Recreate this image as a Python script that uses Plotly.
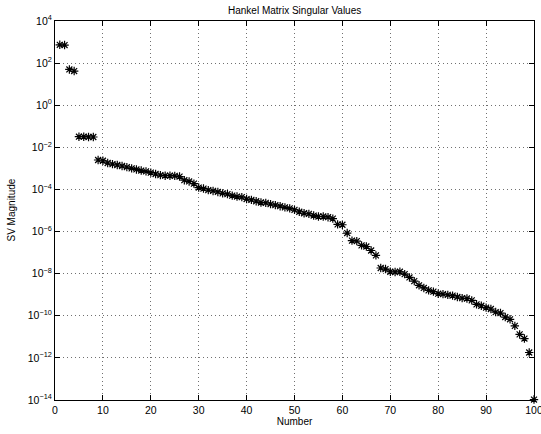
import plotly.graph_objects as go

number = list(range(1, 101))
sv_magnitude = [
    7.4e2, 7.2e2, 5.0e1, 4.2e1, 3.2e-2, 3.2e-2, 3.1e-2, 3.1e-2, 2.5e-3, 2.3e-3,
    1.8e-3, 1.6e-3, 1.45e-3, 1.3e-3, 1.15e-3, 1.0e-3, 8.9e-4, 7.9e-4, 7.2e-4, 6.3e-4,
    5.4e-4, 4.8e-4, 4.5e-4, 4.5e-4, 4.4e-4, 4.1e-4, 2.75e-4, 2.4e-4, 1.9e-4, 1.23e-4,
    1.1e-4, 9.3e-5, 8.5e-5, 7.6e-5, 6.5e-5, 6.0e-5, 5.1e-5, 4.6e-5, 4.3e-5, 3.5e-5,
    3.2e-5, 2.75e-5, 2.4e-5, 2.3e-5, 2.0e-5, 1.8e-5, 1.6e-5, 1.4e-5, 1.26e-5, 1.07e-5,
    8.7e-6, 7.4e-6, 6.9e-6, 5.75e-6, 5.2e-6, 5.2e-6, 4.8e-6, 4.1e-6, 2.2e-6, 2.1e-6,
    8.5e-7, 3.7e-7, 3.5e-7, 2.2e-7, 1.95e-7, 1.26e-7, 7.4e-8, 1.86e-8, 1.66e-8, 1.23e-8,
    1.2e-8, 1.23e-8, 9.5e-9, 6.6e-9, 4.4e-9, 2.8e-9, 2.1e-9, 1.6e-9, 1.4e-9, 1.12e-9,
    1.07e-9, 9.8e-10, 9.1e-10, 7.8e-10, 6.9e-10, 6.6e-10, 5.4e-10, 3.5e-10, 3.0e-10, 2.45e-10,
    2.1e-10, 1.5e-10, 1.35e-10, 8.7e-11, 6.8e-11, 3.3e-11, 1.3e-11, 8.3e-12, 1.8e-12, 1.05e-14,
]

x_ticks = [0, 10, 20, 30, 40, 50, 60, 70, 80, 90, 100]
y_tick_exponents = [-14, -12, -10, -8, -6, -4, -2, 0, 2, 4]
y_tick_vals = [10.0 ** e for e in y_tick_exponents]
y_tick_text = ["10<sup>%d</sup>" % e if e >= 0 else "10<sup>\u2212%d</sup>" % (-e) for e in y_tick_exponents]

font = "Liberation Sans, Arial, Helvetica, sans-serif"

fig = go.Figure()
fig.add_trace(go.Scatter(
    x=number, y=sv_magnitude, mode="markers",
    marker=dict(symbol="asterisk-open", size=7, color="black",
                line=dict(color="black", width=1.2)),
    cliponaxis=False, showlegend=False, hoverinfo="skip",
))

axis_common = dict(
    showline=True, linecolor="black", linewidth=1, mirror="ticks",
    ticks="inside", ticklen=5, tickcolor="black", tickwidth=1,
    showgrid=True, gridcolor="#707070", griddash="1px,3px", gridwidth=1,
    zeroline=False, tickfont=dict(family=font, size=10.5, color="black"),
    automargin=False, ticklabeloverflow="allow",
)

fig.update_layout(
    width=541, height=434,
    margin=dict(l=55, r=7, t=21, b=34),
    paper_bgcolor="white", plot_bgcolor="white",
    font=dict(family=font, size=11, color="black"),
    title=dict(text="Hankel Matrix Singular Values", x=0.5446, xanchor="center",
               y=0.975, yanchor="middle", font=dict(family=font, size=10, color="black")),
    xaxis=dict(range=[0, 100], tickvals=x_ticks,
               title=dict(text="Number", font=dict(family=font, size=10), standoff=0),
               **axis_common),
    yaxis=dict(type="log", range=[-14, 4], tickvals=y_tick_vals, ticktext=y_tick_text,
               **axis_common),
    annotations=[dict(text="SV Magnitude", xref="paper", yref="paper",
                      x=(11 - 55) / 479, y=0.5, xanchor="center", yanchor="middle",
                      textangle=-90, showarrow=False,
                      font=dict(family=font, size=10, color="black"))],
)

fig.write_html("out.html", config={"displayModeBar": False},
               post_script="document.body.style.margin='0';document.body.style.overflow='hidden';")
